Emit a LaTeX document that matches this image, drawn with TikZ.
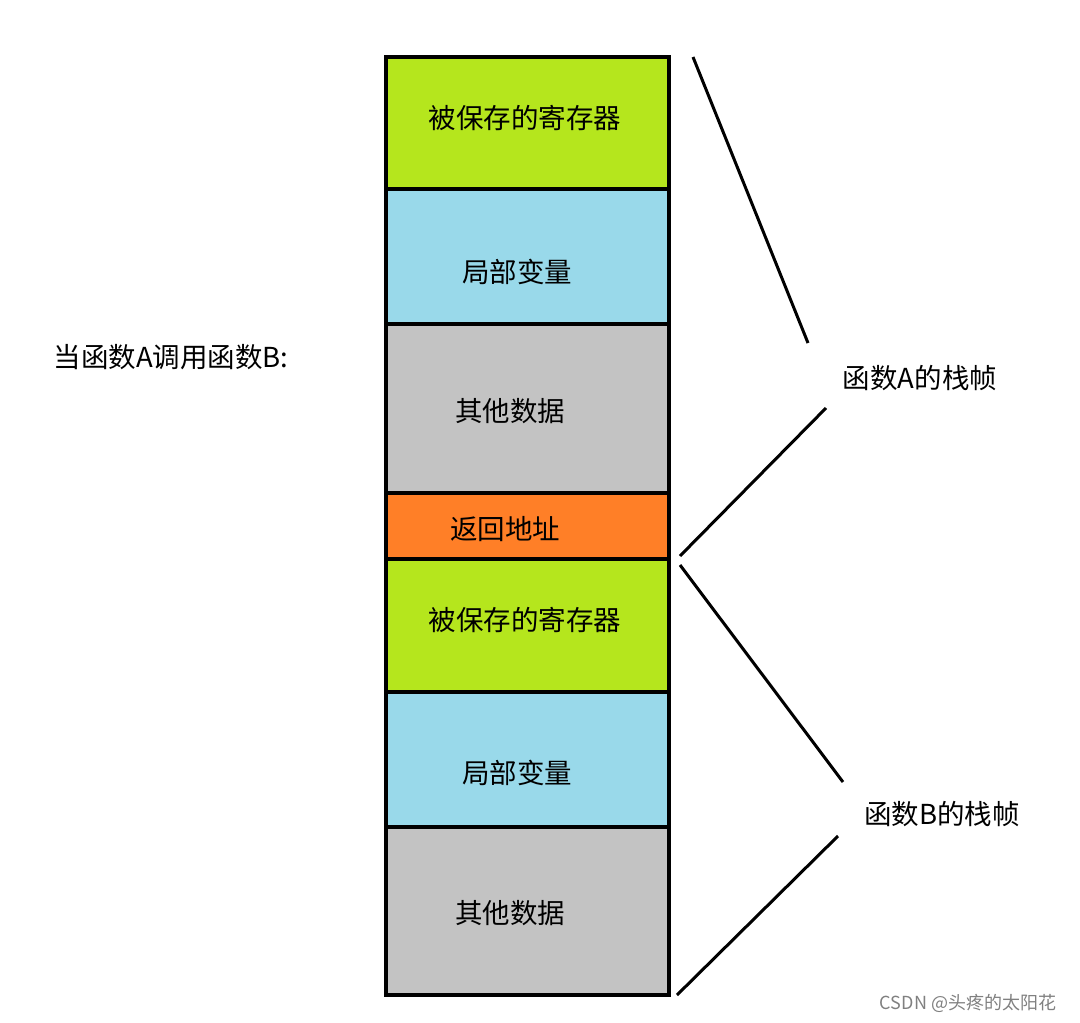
\documentclass[tikz,border=0pt]{standalone}
\usepackage{fontspec}
\setmainfont{Noto Sans CJK SC}
\begin{document}
\begin{tikzpicture}[x=1pt,y=-1pt,
  cell/.style={draw=black,line width=4pt},
  lbl/.style={font=\fontsize{27.5}{30}\selectfont,anchor=center},
  ln/.style={line width=3pt,black}]
\useasboundingbox (0,0) rectangle (1080,1023);
\definecolor{cg}{HTML}{B5E61D}\definecolor{cb}{HTML}{99D9EA}
\definecolor{cy}{HTML}{C3C3C3}\definecolor{co}{HTML}{FF7F27}
\foreach \a/\b/\c/\t/\n/\x/\y in {57/189/cg/被保存的寄存器/r1/525/118,189/324/cb/局部变量/l1/517/272,324/493/cy/其他数据/o1/510/411,493/559/co/返回地址/ra/505/529,559/692/cg/被保存的寄存器/r2/525/620,692/827/cb/局部变量/l2/517/773,827/995/cy/其他数据/o2/510/913}{
  \filldraw[cell,fill=\c] (386,\a) rectangle (669,\b);
  \node[lbl] (\n) at (\x,\y) {\t};}
\node[lbl] (fa) at (920,378) {函数A的栈帧};
\node[lbl] (fb) at (942,814) {函数B的栈帧};
\node[lbl] (q) at (171,357) {当函数A调用函数B:};
\node[font=\fontsize{18}{20}\selectfont,text=gray] (w) at (968,1003) {CSDN @头疼的太阳花};
\coordinate (a1) at (693,57); \coordinate (a2) at (808,343);
\coordinate (a3) at (826,408); \coordinate (a4) at (680,556);
\coordinate (b1) at (680,565); \coordinate (b2) at (843,782);
\coordinate (b3) at (838,836); \coordinate (b4) at (677,995);
\draw[ln] (a1)--(a2); \draw[ln] (a3)--(a4);
\draw[ln] (b1)--(b2); \draw[ln] (b3)--(b4);
\end{tikzpicture}
\end{document}
